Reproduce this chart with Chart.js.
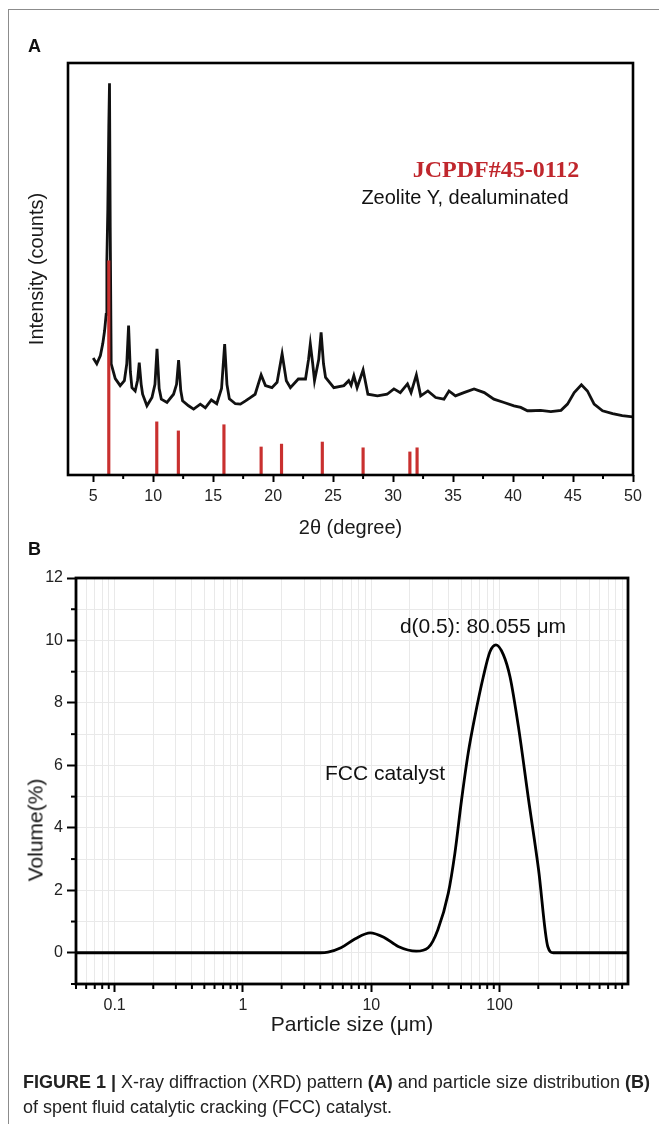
<!DOCTYPE html>
<html>
<head>
<meta charset="utf-8">
<script src="https://cdn.jsdelivr.net/npm/chart.js@4.4.1/dist/chart.umd.min.js"></script>
<style>
  body { margin: 0; background: #fff; }
  #page { position: relative; width: 659px; height: 1124px; overflow: hidden; font-family: "Liberation Sans", Arial, sans-serif; color: #111; }
  #frame { position: absolute; left: 8px; top: 9px; width: 660px; height: 1130px; border-left: 1.5px solid #8c8c8c; border-top: 1.5px solid #8c8c8c; }
  canvas { position: absolute; left: 0; }
  .txt { position: absolute; white-space: nowrap; line-height: 1; transform: translate(-50%, -50%); }
  .panel { position: absolute; font-weight: bold; font-size: 18px; line-height: 1; }
  .cap { position: absolute; left: 23px; white-space: nowrap; font-family: "Liberation Sans Narrow", "Arial Narrow", sans-serif; font-size: 18px; color: #222; line-height: 1; }
</style>
</head>
<body>
<div id="page">
  <div id="frame"></div>
  <canvas id="chartA" width="659" height="545" style="top:0"></canvas>
  <canvas id="chartB" width="659" height="520" style="top:540px"></canvas>

  <div class="panel" style="left:28px; top:37px">A</div>
  <div class="panel" style="left:28px; top:540px">B</div>

  <div class="txt" style="left:496px; top:169px; font-family:'Liberation Serif','Times New Roman',serif; font-weight:bold; font-size:24px; color:#c0272d">JCPDF#45-0112</div>
  <div class="txt" style="left:465px; top:197px; font-size:20px">Zeolite Y, dealuminated</div>

  <div class="txt" style="left:483px; top:625px; font-size:21px">d(0.5): 80.055 μm</div>
  <div class="txt" style="left:385px; top:772px; font-size:21px">FCC catalyst</div>
  <div class="txt" style="left:35px; top:830px; font-size:21px; transform: translate(-50%, -50%) rotate(-90deg)">Volume(%)</div>

  <div class="cap" style="top:1073px"><b>FIGURE 1 |</b> X-ray diffraction (XRD) pattern <b>(A)</b> and particle size distribution <b>(B)</b></div>
  <div class="cap" style="top:1098px">of spent fluid catalytic cracking (FCC) catalyst.</div>
</div>

<script>
// --- panel A: XRD pattern ---
const xrdAngle = [5.0, 5.3, 5.6, 5.8, 5.95, 6.08, 6.14, 6.22, 6.3, 6.36, 6.42, 6.5, 6.84, 7.25, 7.6, 7.8, 7.95, 8.1, 8.23, 8.5,
  8.7, 8.84, 9.0, 9.12, 9.48, 9.9, 10.15, 10.32, 10.5, 10.68, 11.15, 11.7, 11.95, 12.12, 12.3, 12.45, 12.95, 13.37, 13.93, 14.35,
  14.85, 15.3, 15.7, 15.96, 16.15, 16.35, 16.85, 17.27, 17.7, 18.1, 18.5, 19.0, 19.36, 19.9, 20.33, 20.75, 21.1, 21.44, 22.1, 22.7,
  22.95, 23.1, 23.3, 23.45, 23.8, 24.0, 24.2, 24.37, 25.06, 25.9, 26.3, 26.5, 26.73, 27.0, 27.5, 27.9, 28.7, 29.5, 30.07, 30.6,
  31.2, 31.5, 31.94, 32.3, 32.9, 33.55, 34.24, 34.66, 35.2, 35.9, 36.75, 37.6, 38.4, 39.25, 40.08, 40.64, 41.2, 41.5, 42.3, 43.15,
  44.0, 44.54, 45.1, 45.7, 46.2, 46.76, 47.46, 48.3, 49.1, 49.97];
const xrdCounts = [28.4, 27.0, 29.0, 31.9, 35.0, 39.0, 52.0, 64.7, 84.4, 95.1, 60.0, 27.0, 23.4, 21.7, 22.9, 27.0, 36.3, 25.0, 21.2, 20.4,
  23.0, 27.3, 22.0, 19.6, 16.8, 18.8, 22.0, 30.6, 21.0, 18.4, 17.6, 19.6, 22.0, 27.9, 20.5, 18.0, 16.8, 16.0, 17.2, 16.3,
  18.2, 17.3, 21.0, 31.8, 22.0, 18.5, 17.3, 17.2, 18.0, 18.8, 19.6, 24.3, 21.7, 21.2, 22.5, 29.4, 22.9, 21.2, 23.3, 23.3,
  28.0, 31.8, 27.0, 22.9, 28.0, 34.6, 27.0, 23.7, 21.2, 21.7, 22.9, 21.8, 24.1, 21.2, 25.5, 19.6, 19.2, 19.6, 20.9, 20.0,
  22.1, 20.0, 24.3, 19.2, 20.4, 18.8, 18.4, 20.4, 19.2, 20.0, 20.9, 20.0, 18.4, 17.6, 16.8, 16.4, 15.6, 15.6, 15.7, 15.4,
  15.7, 17.2, 20.0, 21.9, 20.4, 17.2, 15.6, 14.9, 14.4, 14.1];

// JCPDF#45-0112 reference lines
const refAngle = [6.3, 10.3, 12.1, 15.9, 19.0, 20.7, 24.1, 27.5, 31.4, 32.0];
const refIntensity = [52, 12.9, 10.7, 12.2, 6.8, 7.5, 8.0, 6.6, 5.6, 6.6];

const xTicksA = [5, 10, 15, 20, 25, 30, 35, 40, 45, 50];
const xMinorA = [7.5, 12.5, 17.5, 22.5, 27.5, 32.5, 37.5, 42.5, 47.5];

// --- panel B: particle size distribution ---
const particleSize = [0.05, 4.0, 4.6, 5.8, 7.5, 9.8, 12.5, 16.2, 22.4, 27.7, 33, 39.8, 44.8, 50.5, 56.9, 64.1,
  74.5, 84, 93.6, 107, 120.5, 140, 168, 201, 237, 262, 1000];
const volumePct = [0, 0, 0.02, 0.16, 0.45, 0.64, 0.5, 0.2, 0.05, 0.16, 0.74, 1.91, 3.19, 4.9, 6.4, 7.56,
  8.83, 9.64, 9.86, 9.54, 8.83, 7.24, 4.9, 2.66, 0.2, 0, 0];

const xMajorB = [0.1, 1, 10, 100];
const xMinorB = [0.05, 0.06, 0.07, 0.08, 0.09, 0.2, 0.3, 0.4, 0.5, 0.6, 0.7, 0.8, 0.9,
  2, 3, 4, 5, 6, 7, 8, 9, 20, 30, 40, 50, 60, 70, 80, 90, 200, 300, 400, 500, 600, 700, 800, 900];
const yLabelsB = [0, 2, 4, 6, 8, 10, 12];
const yMinorB = [-1, 1, 3, 5, 7, 9, 11];

Chart.defaults.font.family = '"Liberation Sans", Arial, sans-serif';
Chart.defaults.color = '#1a1a1a';

const isIn = (arr, v) => arr.some(a => Math.abs(a - v) < 1e-9 * Math.max(1, Math.abs(a)));

// box round the plot area plus the short minor ticks
const framePlugin = {
  id: 'frame',
  afterDraw(chart, args, opts) {
    const { ctx, chartArea: a } = chart;
    ctx.save();
    ctx.strokeStyle = '#000';
    ctx.lineWidth = opts.tickWidth;
    (opts.minorX || []).forEach(v => {
      const x = chart.scales.x.getPixelForValue(v);
      ctx.beginPath(); ctx.moveTo(x, a.bottom); ctx.lineTo(x, a.bottom + opts.minorLen); ctx.stroke();
    });
    (opts.minorY || []).forEach(v => {
      const y = chart.scales.y.getPixelForValue(v);
      ctx.beginPath(); ctx.moveTo(a.left, y); ctx.lineTo(a.left - opts.minorLen, y); ctx.stroke();
    });
    ctx.lineWidth = opts.width;
    ctx.strokeRect(a.left, a.top, a.right - a.left, a.bottom - a.top);
    ctx.restore();
  }
};

new Chart(document.getElementById('chartA'), {
  type: 'line',
  data: {
    datasets: [
      {
        type: 'bar',
        data: refAngle.map((x, i) => ({ x: x, y: refIntensity[i] })),
        backgroundColor: '#c9302f',
        barThickness: 2.5,
        order: 0
      },
      {
        type: 'line',
        data: xrdAngle.map((x, i) => ({ x: x, y: xrdCounts[i] })),
        borderColor: '#111',
        borderWidth: 2.8,
        pointRadius: 0,
        tension: 0,
        order: 1
      }
    ]
  },
  options: {
    responsive: false,
    animation: false,
    devicePixelRatio: 1,
    layout: { padding: { top: 63, right: 26, left: 0, bottom: 0 } },
    plugins: {
      legend: { display: false },
      tooltip: { enabled: false },
      frame: { width: 2.6, tickWidth: 2, minorLen: 4, minorX: xMinorA }
    },
    scales: {
      x: {
        type: 'linear',
        min: 2.9,
        max: 50,
        offset: false,
        afterBuildTicks: s => { s.ticks = xTicksA.map(v => ({ value: v })); },
        afterFit: s => { s.height = 70; },
        ticks: { autoSkip: false, maxRotation: 0, padding: 5, font: { size: 16 }, color: '#222' },
        grid: { drawOnChartArea: false, offset: false, tickLength: 7, tickWidth: 2, tickColor: '#000' },
        border: { display: false },
        title: { display: true, text: '2θ (degree)', font: { size: 20 }, color: '#1a1a1a', padding: { top: 0, bottom: 5 } }
      },
      y: {
        min: 0,
        max: 100,
        afterFit: s => { s.width = 68; },
        ticks: { display: false },
        grid: { display: false },
        border: { display: false },
        title: { display: true, text: 'Intensity (counts)', font: { size: 20 }, color: '#1a1a1a', padding: { top: 25, bottom: 0 } }
      }
    }
  },
  plugins: [framePlugin]
});

new Chart(document.getElementById('chartB'), {
  type: 'line',
  data: {
    datasets: [{
      data: particleSize.map((x, i) => ({ x: x, y: volumePct[i] })),
      borderColor: '#000',
      borderWidth: 2.8,
      pointRadius: 0,
      cubicInterpolationMode: 'monotone'
    }]
  },
  options: {
    responsive: false,
    animation: false,
    devicePixelRatio: 1,
    layout: { padding: { top: 38, right: 31, left: 0, bottom: 0 } },
    plugins: {
      legend: { display: false },
      tooltip: { enabled: false },
      frame: { width: 2.8, tickWidth: 2, minorLen: 5, minorX: xMinorB, minorY: yMinorB }
    },
    scales: {
      x: {
        type: 'logarithmic',
        min: 0.05,
        max: 1000,
        afterBuildTicks: s => {
          s.ticks = xMinorB.concat(xMajorB).sort((a, b) => a - b).map(v => ({ value: v }));
        },
        afterFit: s => { s.height = 76; },
        ticks: {
          autoSkip: false,
          maxRotation: 0,
          padding: 4,
          font: { size: 16 },
          color: '#222',
          callback: v => isIn(xMajorB, v) ? String(v) : ''
        },
        grid: {
          color: '#e9e9e9',
          lineWidth: 1,
          tickLength: 8,
          tickWidth: 2,
          tickColor: c => isIn(xMajorB, c.tick.value) ? '#000' : 'rgba(0,0,0,0)'
        },
        border: { display: false },
        title: { display: true, text: 'Particle size (μm)', font: { size: 21 }, color: '#1a1a1a', padding: { top: 0, bottom: 22 } }
      },
      y: {
        min: -1,
        max: 12,
        afterFit: s => { s.width = 76; },
        ticks: {
          stepSize: 1,
          padding: 4,
          font: { size: 16 },
          color: '#222',
          callback: v => isIn(yLabelsB, v) ? String(v) : ''
        },
        grid: {
          color: '#e9e9e9',
          lineWidth: 1,
          tickLength: 9,
          tickWidth: 2,
          tickColor: c => isIn(yLabelsB, c.tick.value) ? '#000' : 'rgba(0,0,0,0)'
        },
        border: { display: false }
      }
    }
  },
  plugins: [framePlugin]
});
</script>
</body>
</html>
